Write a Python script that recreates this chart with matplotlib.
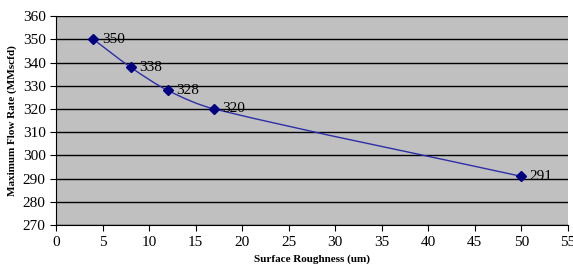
import matplotlib.pyplot as plt
from matplotlib.path import Path
from matplotlib.patches import PathPatch

roughness = [4, 8, 12, 17, 50]
flow_rate = [350, 338, 328, 320, 291]
labels = ['350', '338', '328', '320', '291']

plt.rcParams['font.family'] = ['Liberation Serif', 'DejaVu Serif']

fig = plt.figure(figsize=(5.73, 2.68), dpi=100)
ax = fig.add_axes([0.098, 0.16, 0.893, 0.78])
ax.set_facecolor('#c0c0c0')

# smoothed line like the spreadsheet (cubic hermite drawn as bezier)
n = len(roughness)
slopes = []
for i in range(n):
    a, b = max(i - 1, 0), min(i + 1, n - 1)
    slopes.append((flow_rate[b] - flow_rate[a]) / (roughness[b] - roughness[a]))
verts = [(roughness[0], flow_rate[0])]
codes = [Path.MOVETO]
for i in range(n - 1):
    h = (roughness[i + 1] - roughness[i]) / 3
    verts += [(roughness[i] + h, flow_rate[i] + slopes[i] * h),
              (roughness[i + 1] - h, flow_rate[i + 1] - slopes[i + 1] * h),
              (roughness[i + 1], flow_rate[i + 1])]
    codes += [Path.CURVE4] * 3
ax.add_patch(PathPatch(Path(verts, codes), facecolor='none', edgecolor='#2e2ea8', lw=1.0, zorder=3))
ax.plot(roughness, flow_rate, linestyle='none', marker='D', ms=5.5, color='#000080', zorder=4)

for x, y, s in zip(roughness, flow_rate, labels):
    ax.annotate(s, (x, y), xytext=(6, 0), textcoords='offset points', va='center', ha='left', fontsize=11)

ax.set_xlim(0, 55)
ax.set_ylim(270, 360)
ax.set_xticks(range(0, 56, 5))
ax.set_yticks(range(270, 361, 10))
ax.yaxis.grid(True, color='black', lw=1.0)
ax.set_axisbelow(True)
ax.tick_params(labelsize=11, direction='out', length=4, color='black')
ax.set_xlabel('Surface Roughness (um)', fontsize=8, fontweight='bold')
ax.set_ylabel('Maximum Flow Rate (MMscfd)', fontsize=8, fontweight='bold')
for side in ['top', 'right']:
    ax.spines[side].set_visible(False)

fig.savefig('out.png', dpi=100)
